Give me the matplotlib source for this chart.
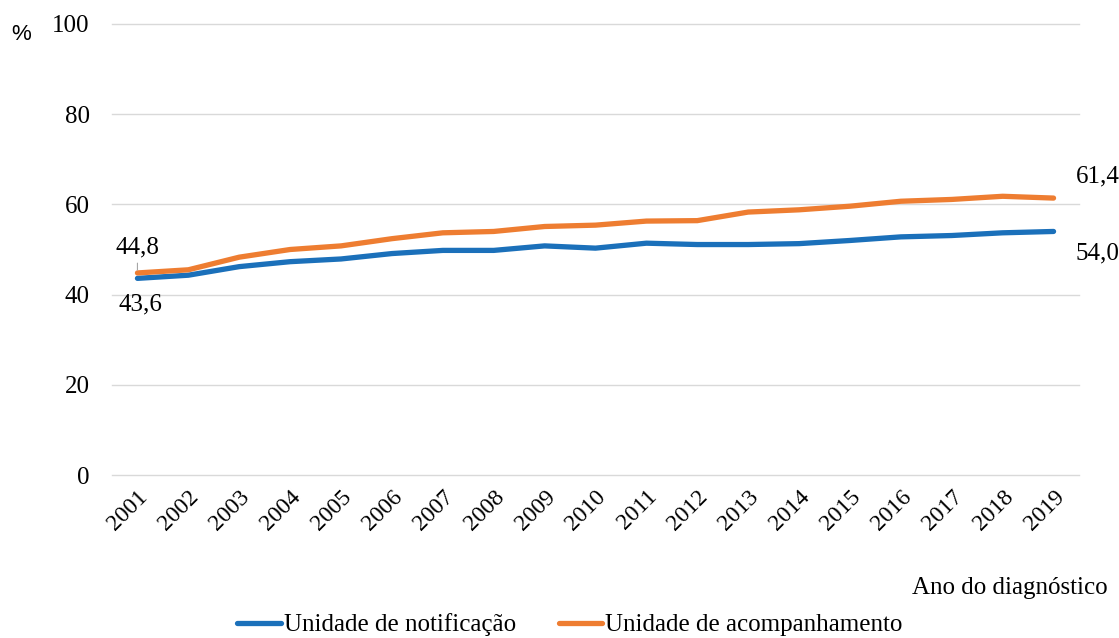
import matplotlib.pyplot as plt

years = [str(y) for y in range(2001, 2020)]
notificacao = [43.6, 44.3, 46.2, 47.3, 47.9, 49.1, 49.8, 49.8, 50.8, 50.3,
               51.4, 51.1, 51.1, 51.3, 52.0, 52.8, 53.1, 53.7, 54.0]
acompanhamento = [44.8, 45.5, 48.3, 50.0, 50.8, 52.4, 53.7, 54.0, 55.1, 55.4,
                  56.3, 56.4, 58.3, 58.8, 59.6, 60.7, 61.1, 61.8, 61.4]
yticks = [0, 20, 40, 60, 80, 100]

plt.rcParams['font.family'] = ['Liberation Serif', 'DejaVu Serif']

W, H = 1119, 638
fig = plt.figure(figsize=(W / 100, H / 100), dpi=100)
ax = fig.add_axes([112 / W, 1 - 475 / H, (1079 - 112) / W, (475 - 24) / H])

x = list(range(len(years)))
blue = '#1B70BA'
orange = '#EE7D31'
ax.plot(x, notificacao, color=blue, lw=3.8, solid_capstyle='round',
        label='Unidade de notificação')
ax.plot(x, acompanhamento, color=orange, lw=3.8, solid_capstyle='round',
        label='Unidade de acompanhamento')

ax.set_xlim(-0.5, len(years) - 0.5)
ax.set_ylim(0, 100)
ax.set_yticks(yticks)
ax.set_yticklabels([str(v) for v in yticks], fontsize=18)
ax.set_xticks(x)
ax.set_xticklabels(years, rotation=45, ha='right', rotation_mode='anchor', fontsize=17)
ax.tick_params(axis='y', length=0, pad=16)
ax.tick_params(axis='x', length=0, pad=8)
ax.grid(axis='y', color='#D9D9D9', lw=1)
ax.set_axisbelow(True)
for gl in ax.get_ygridlines():
    gl.set_clip_on(False)
for s in ax.spines.values():
    s.set_visible(False)

def fmt(v):
    return f'{v:.1f}'.replace('.', ',')

ax.annotate(fmt(acompanhamento[0]), xy=(0, acompanhamento[0]), xytext=(0, 18),
            textcoords='offset points', ha='center', va='center', fontsize=18,
            arrowprops=dict(arrowstyle='-', color='#A6A6A6', lw=0.8, shrinkA=1, shrinkB=2))
ax.annotate(fmt(notificacao[0]), xy=(0, notificacao[0]), xytext=(2, -19),
            textcoords='offset points', ha='center', va='center', fontsize=18)
ax.annotate(fmt(acompanhamento[-1]), xy=(x[-1], acompanhamento[-1]), xytext=(16, 8),
            textcoords='offset points', ha='left', va='bottom', fontsize=18)
ax.annotate(fmt(notificacao[-1]), xy=(x[-1], notificacao[-1]), xytext=(16, -8),
            textcoords='offset points', ha='left', va='top', fontsize=18)

fig.text(21 / W, 1 - 34 / H, '%', fontsize=16, family='Liberation Sans', ha='center', va='center')
fig.text(1108 / W, 1 - 588 / H, 'Ano do diagnóstico', fontsize=18, ha='right', va='center')

fig.legend(loc='center', bbox_to_anchor=(570 / W, 1 - 625 / H), ncol=2, frameon=False,
           fontsize=18, handlelength=1.75, handletextpad=0.12, columnspacing=1.7,
           borderaxespad=0)

fig.savefig('out.png', dpi=100)
